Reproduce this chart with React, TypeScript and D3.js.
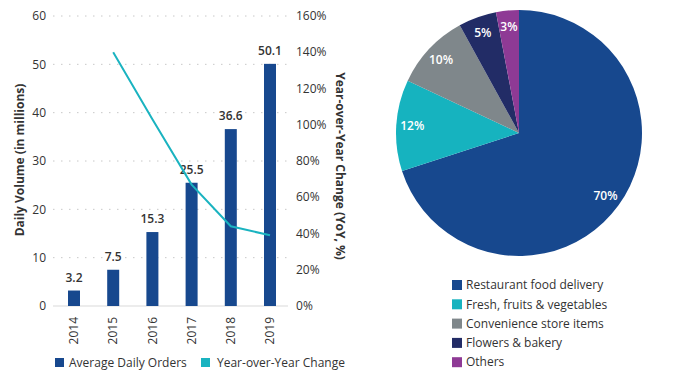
import React from 'react';
import * as d3 from 'd3';

const years = ['2014', '2015', '2016', '2017', '2018', '2019'];
const dailyOrders = [3.2, 7.5, 15.3, 25.5, 36.6, 50.1];
const yoyYears = ['2015', '2016', '2017', '2018', '2019'];
const yoyChange = [140, 103, 67, 44, 39];

const pieLabels = [
  'Restaurant food delivery',
  'Fresh, fruits & vegetables',
  'Convenience store items',
  'Flowers & bakery',
  'Others',
];
const pieValues = [70, 12, 10, 5, 3];
const pieColors = ['#17488e', '#16b3bf', '#7f878b', '#222c66', '#8e3a95'];

const leftTicks = [0, 10, 20, 30, 40, 50, 60];
const rightTicks = [0, 20, 40, 60, 80, 100, 120, 140, 160];

const BAR = '#17488e';
const LINE = '#1ab3c0';
const FONT = '"Open Sans", sans-serif';
const TXT = '#333';

export default function App() {
  const width = 696;
  const height = 385;

  const x = d3.scaleBand<string>().domain(years).range([54.4, 289.6]);
  const yL = d3.scaleLinear().domain([0, 60]).range([306, 16]);
  const yR = d3.scaleLinear().domain([0, 160]).range([306, 16]);
  const cx = (d: string) => (x(d) ?? 0) + x.bandwidth() / 2;
  const barW = 12;

  const line = d3
    .line<number>()
    .x((_, i) => cx(yoyYears[i]))
    .y((d) => yR(d));

  // pie
  const pcx = 519;
  const pcy = 133;
  const r = 123;
  const arcs = d3.pie<number>().sort(null).value((d) => d)(pieValues);
  const arc = d3.arc<d3.PieArcDatum<number>>().innerRadius(0).outerRadius(r);
  const labelArc = d3.arc<d3.PieArcDatum<number>>().innerRadius(107).outerRadius(107);

  return (
    <svg
      width={width}
      height={height}
      style={{ position: 'absolute', left: 0, top: 0, background: '#fff' }}
      fontFamily={FONT}
    >
      {/* grid */}
      {leftTicks.map((t) => (
        <line
          key={'g' + t}
          x1={53}
          x2={288}
          y1={yL(t)}
          y2={yL(t)}
          stroke={t === 0 ? '#d9d9d9' : '#c8c8c8'}
          strokeWidth={1}
          strokeDasharray={t === 0 ? undefined : '1.5,6.5'}
        />
      ))}
      {leftTicks.map((t) => (
        <text key={'l' + t} x={46} y={yL(t)} dy="0.35em" textAnchor="end" fontSize={12} fill={TXT}>
          {t}
        </text>
      ))}
      {rightTicks.map((t) => (
        <text key={'r' + t} x={296} y={yR(t)} dy="0.35em" textAnchor="start" fontSize={12} fill={TXT}>
          {t}%
        </text>
      ))}
      <text
        transform={`translate(20,160) rotate(-90)`}
        dy="0.35em"
        textAnchor="middle"
        fontSize={12}
        fontWeight="bold"
        fill={TXT}
      >
        Daily Volume (in millions)
      </text>
      <text
        transform={`translate(340,166) rotate(90)`}
        dy="0.35em"
        textAnchor="middle"
        fontSize={12}
        fontWeight="bold"
        fill={TXT}
      >
        Year-over-Year Change (YoY, %)
      </text>

      {/* bars */}
      {dailyOrders.map((v, i) => (
        <g key={'b' + i}>
          <rect x={cx(years[i]) - barW / 2} y={yL(v)} width={barW} height={yL(0) - yL(v)} fill={BAR} />
          <text x={cx(years[i])} y={yL(v) - 9} textAnchor="middle" fontSize={12} fontWeight={600} fill={TXT}>
            {v.toFixed(1)}
          </text>
        </g>
      ))}
      <path d={line(yoyChange) ?? ''} fill="none" stroke={LINE} strokeWidth={2} />

      {/* x labels */}
      {years.map((yr) => (
        <text
          key={'x' + yr}
          transform={`translate(${cx(yr)},317) rotate(-90)`}
          dy="0.35em"
          textAnchor="end"
          fontSize={12}
          fill={TXT}
        >
          {yr}
        </text>
      ))}

      {/* left legend */}
      <rect x={55} y={358} width={9} height={9} fill={BAR} />
      <text x={69} y={363} dy="0.35em" fontSize={12} fill={TXT}>
        Average Daily Orders
      </text>
      <rect x={201} y={358} width={9} height={9} fill={LINE} />
      <text x={217} y={363} dy="0.35em" fontSize={12} fill={TXT}>
        Year-over-Year Change
      </text>

      {/* pie */}
      <g transform={`translate(${pcx},${pcy})`}>
        {arcs.map((a, i) => (
          <path key={'p' + i} d={arc(a) ?? ''} fill={pieColors[i]} />
        ))}
        {arcs.map((a, i) => {
          const [lx, ly] = labelArc.centroid(a);
          return (
            <text
              key={'pl' + i}
              x={lx}
              y={ly}
              dy="0.35em"
              textAnchor="middle"
              fontSize={12}
              fontWeight={600}
              fill="#fff"
            >
              {pieValues[i]}%
            </text>
          );
        })}
      </g>

      {/* pie legend */}
      {pieLabels.map((lab, i) => (
        <g key={'pleg' + i} transform={`translate(452,${285 + i * 19.3})`}>
          <rect x={0} y={-5} width={10} height={10} fill={pieColors[i]} />
          <text x={14} y={0} dy="0.35em" fontSize={12} fill={TXT}>
            {lab}
          </text>
        </g>
      ))}
    </svg>
  );
}
